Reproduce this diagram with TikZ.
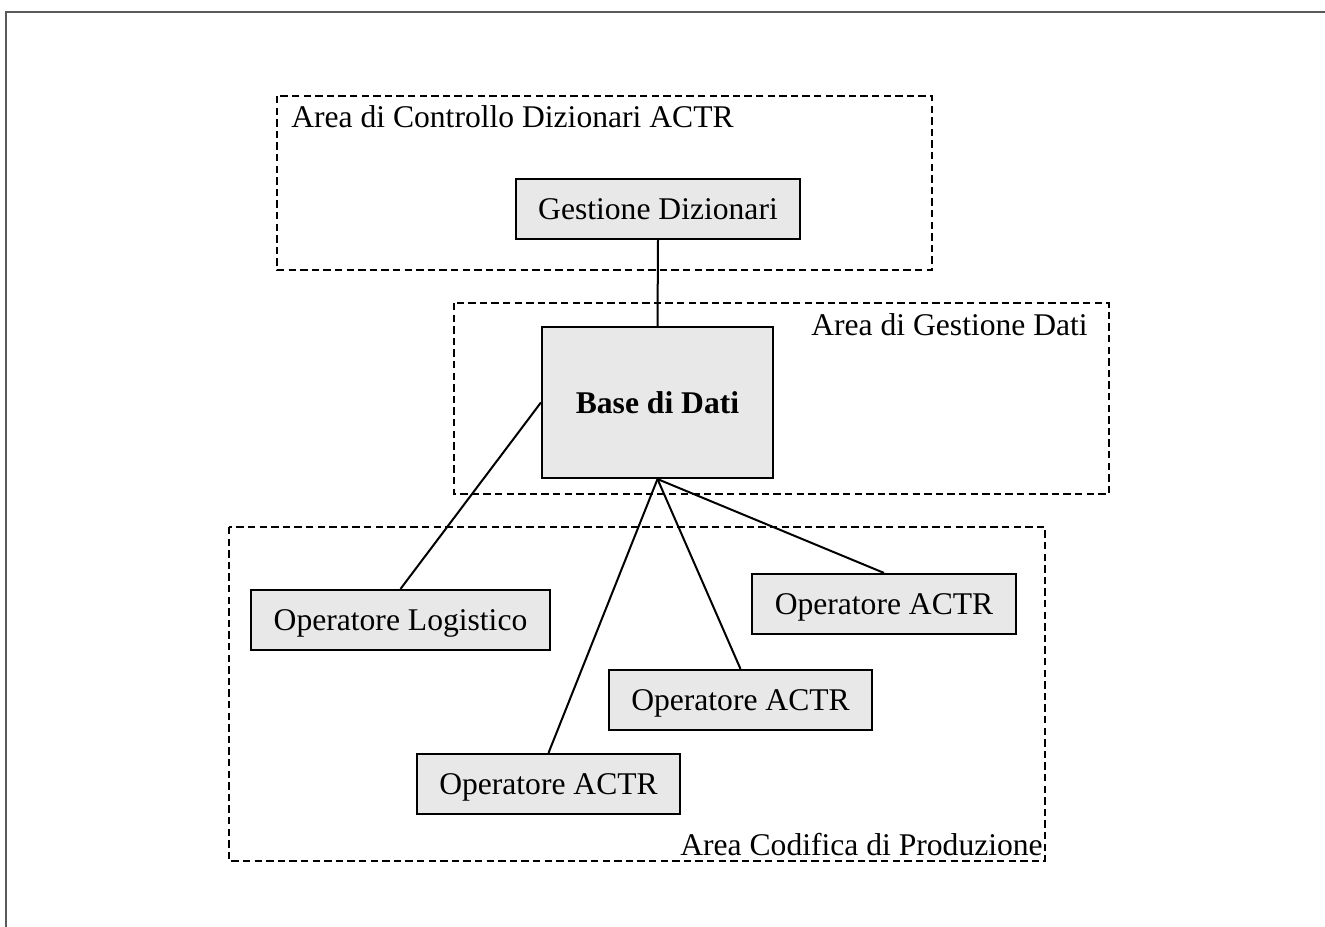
\documentclass[tikz,border=0pt]{standalone}
\usepackage{fontspec}
\setmainfont{Liberation Serif}
\begin{document}
\begin{tikzpicture}[x=0.75pt,y=-0.75pt,
  every node/.style={font=\fontsize{23.7}{28}\selectfont},
  unit/.style={draw=black,line width=1.6pt,fill=gray!18,inner sep=0pt,text depth=0pt,minimum height=45pt},
  area/.style={draw=black,line width=1.6pt,dash pattern=on 5.5pt off 3.2pt},
  link/.style={draw=black,line width=1.5pt},
  arealabel/.style={inner sep=0pt}]
\useasboundingbox (0,0) rectangle (1325,927);
% page frame (top and left edges only)
\draw[line width=1.6pt,color=black!65] (6,927) -- (6,12) -- (1325,12);

% dashed areas
\draw[area] (277,96) rectangle (932,270);
\draw[area] (454,303) rectangle (1109,494);
\draw[area] (229,527) rectangle (1045,861);
\node[arealabel,anchor=base west] (lblctrl) at (291,128) {Area di Controllo Dizionari ACTR};
\node[arealabel,anchor=base east] (lbldati) at (1088,335) {Area di Gestione Dati};
\node[arealabel,anchor=base east] (lblprod) at (1043,855) {Area Codifica di Produzione};

% units
\node[unit,minimum width=213pt] (gd) at (658,209) {Gestione Dizionari};
\node[unit,minimum width=173.25pt,minimum height=113.25pt] (base) at (657.5,402.5) {\bfseries Base di Dati};
\node[unit,minimum width=224.25pt] (ol) at (400.5,620) {Operatore Logistico};
\node[unit,minimum width=198pt] (a1) at (884,604) {Operatore ACTR};
\node[unit,minimum width=197.25pt] (a2) at (740.5,700) {Operatore ACTR};
\node[unit,minimum width=197.25pt] (a3) at (548.5,784) {Operatore ACTR};

% connections
\draw[link] (gd.south) -- (base.north);
\draw[link] (ol.north) -- (base.west);
\draw[link] (base.south) -- (a1.north);
\draw[link] (base.south) -- (a2.north);
\draw[link] (base.south) -- (a3.north);
\end{tikzpicture}
\end{document}
